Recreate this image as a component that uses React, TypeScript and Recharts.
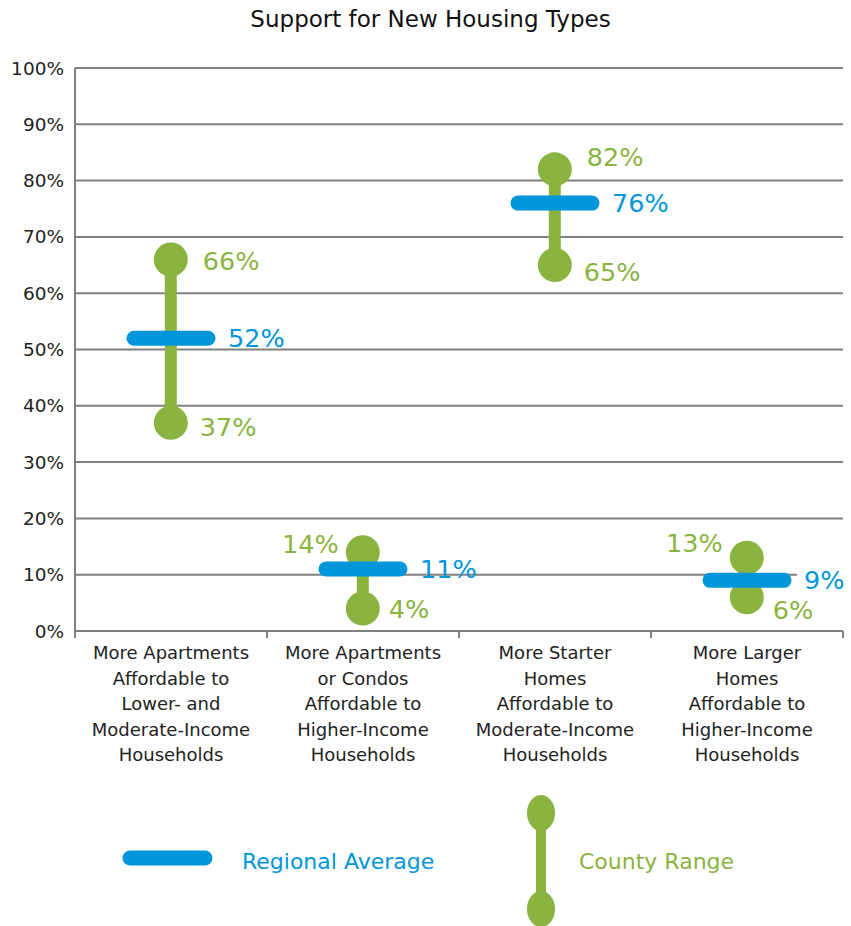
import { ComposedChart, Bar, Line, XAxis, YAxis, CartesianGrid, Legend } from 'recharts';

const categories = [
  ['More Apartments', 'Affordable to', 'Lower- and', 'Moderate-Income', 'Households'],
  ['More Apartments', 'or Condos', 'Affordable to', 'Higher-Income', 'Households'],
  ['More Starter', 'Homes', 'Affordable to', 'Moderate-Income', 'Households'],
  ['More Larger', 'Homes', 'Affordable to', 'Higher-Income', 'Households'],
];
const countyLow = [37, 4, 65, 6];
const countyHigh = [66, 14, 82, 13];
const regionalAvg = [52, 11, 76, 9];
const yTicks = [0, 10, 20, 30, 40, 50, 60, 70, 80, 90, 100];

const GREEN = '#8ab43f';
const BLUE = '#0096d9';
const GRID = '#808080';
const FONT = '"DejaVu Sans", sans-serif';
const BAND = 192;

const data = categories.map((lines, i) => ({
  name: lines.join(' '),
  lines,
  low: countyLow[i],
  high: countyHigh[i],
  range: [countyLow[i], countyHigh[i]],
  avg: regionalAvg[i],
}));

function RangeShape(props: any) {
  const { x, y, width, height } = props;
  const cx = x + width / 2;
  const top = Math.min(y, y + height);
  const bottom = Math.max(y, y + height);
  const span = bottom - top;
  const { high, low } = props.payload;
  // short ranges put the high label on the left and push labels apart
  const narrow = span < 70;
  const highDy = span < 45 ? -15 : narrow ? -8 : top < 200 ? -12 : 2;
  const lowDy = span < 45 ? 13 : narrow ? 1 : top < 200 ? 7 : 4;
  return (
    <g>
      <line x1={cx} x2={cx} y1={top} y2={bottom} stroke={GREEN} strokeWidth={12} />
      <circle cx={cx} cy={top} r={17} fill={GREEN} />
      <circle cx={cx} cy={bottom} r={17} fill={GREEN} />
      <text
        x={narrow ? cx - 24 : cx + 32}
        y={top + highDy}
        textAnchor={narrow ? 'end' : 'start'}
        dominantBaseline="central"
        fill={GREEN}
        fontSize={25.5}
        fontFamily={FONT}
      >
        {high}%
      </text>
      <text
        x={cx + (narrow ? 26 : 29)}
        y={bottom + lowDy}
        textAnchor="start"
        dominantBaseline="central"
        fill={GREEN}
        fontSize={25.5}
        fontFamily={FONT}
      >
        {low}%
      </text>
    </g>
  );
}

function AvgDot(props: any) {
  const { cx, cy, value, index } = props;
  if (cx == null || cy == null) return <g key={index} />;
  return (
    <g key={index}>
      <line x1={cx - 37} x2={cx + 37} y1={cy} y2={cy} stroke={BLUE} strokeWidth={15} strokeLinecap="round" />
      {value < 10 && <rect x={cx + 50} y={cy - 15} width={50} height={28} fill="#fff" />}
      <text
        x={cx + 57}
        y={cy}
        textAnchor="start"
        dominantBaseline="central"
        fill={BLUE}
        fontSize={25.5}
        fontFamily={FONT}
      >
        {value}%
      </text>
    </g>
  );
}

function CategoryTick(props: any) {
  const { x, y, index } = props;
  const lines = categories[index] || [];
  return (
    <g>
      <line x1={x - BAND / 2} x2={x - BAND / 2} y1={y} y2={y + 7} stroke={GRID} strokeWidth={2} />
      <line x1={x + BAND / 2} x2={x + BAND / 2} y1={y} y2={y + 7} stroke={GRID} strokeWidth={2} />
      <text x={x} y={y + 28} textAnchor="middle" fill="#222" fontSize={18} fontFamily={FONT}>
        {lines.map((l: string, i: number) => (
          <tspan key={i} x={x} dy={i === 0 ? 0 : 25.5}>
            {l}
          </tspan>
        ))}
      </text>
    </g>
  );
}

function LegendBox() {
  return (
    <svg width={851} height={136}>
      <line x1={130} x2={205} y1={68} y2={68} stroke={BLUE} strokeWidth={15} strokeLinecap="round" />
      <text x={242} y={71} dominantBaseline="central" fill={BLUE} fontSize={22} fontFamily={FONT}>
        Regional Average
      </text>
      <line x1={541} x2={541} y1={23} y2={119} stroke={GREEN} strokeWidth={10} />
      <ellipse cx={541} cy={23} rx={14} ry={18} fill={GREEN} />
      <ellipse cx={541} cy={119} rx={14} ry={18} fill={GREEN} />
      <text x={579} y={71} dominantBaseline="central" fill={GREEN} fontSize={22} fontFamily={FONT}>
        County Range
      </text>
    </svg>
  );
}

export default function App() {
  return (
    <div style={{ position: 'absolute', left: 0, top: 0, width: 851, height: 926, background: '#fff' }}>
      <div
        style={{
          position: 'absolute',
          top: 6,
          left: 0,
          width: 861,
          textAlign: 'center',
          fontFamily: FONT,
          fontSize: 23,
          color: '#111',
        }}
      >
        Support for New Housing Types
      </div>
      <ComposedChart
        width={851}
        height={926}
        data={data}
        margin={{ top: 68, right: 8, left: 0, bottom: 145 }}
        barCategoryGap="40%"
      >
        <CartesianGrid vertical={false} stroke={GRID} strokeWidth={2} />
        <XAxis
          dataKey="name"
          height={150}
          interval={0}
          tickSize={0}
          tickMargin={0}
          tickLine={false}
          axisLine={{ stroke: GRID, strokeWidth: 2 }}
          tick={<CategoryTick />}
        />
        <YAxis
          width={75}
          domain={[0, 100]}
          ticks={yTicks}
          tickFormatter={(v: number) => `${v}%`}
          tickSize={0}
          tickMargin={11}
          tickLine={false}
          axisLine={{ stroke: GRID, strokeWidth: 2 }}
          tick={{ fill: '#222', fontSize: 18.5, fontFamily: FONT }}
        />
        <Bar dataKey="range" shape={<RangeShape />} isAnimationActive={false} />
        <Line
          dataKey="avg"
          stroke="none"
          dot={<AvgDot />}
          activeDot={false}
          isAnimationActive={false}
        />
        <Legend
          layout="horizontal"
          verticalAlign="middle"
          align="center"
          wrapperStyle={{ top: 790, left: 0, width: 851 }}
          content={() => <LegendBox />}
        />
      </ComposedChart>
    </div>
  );
}
